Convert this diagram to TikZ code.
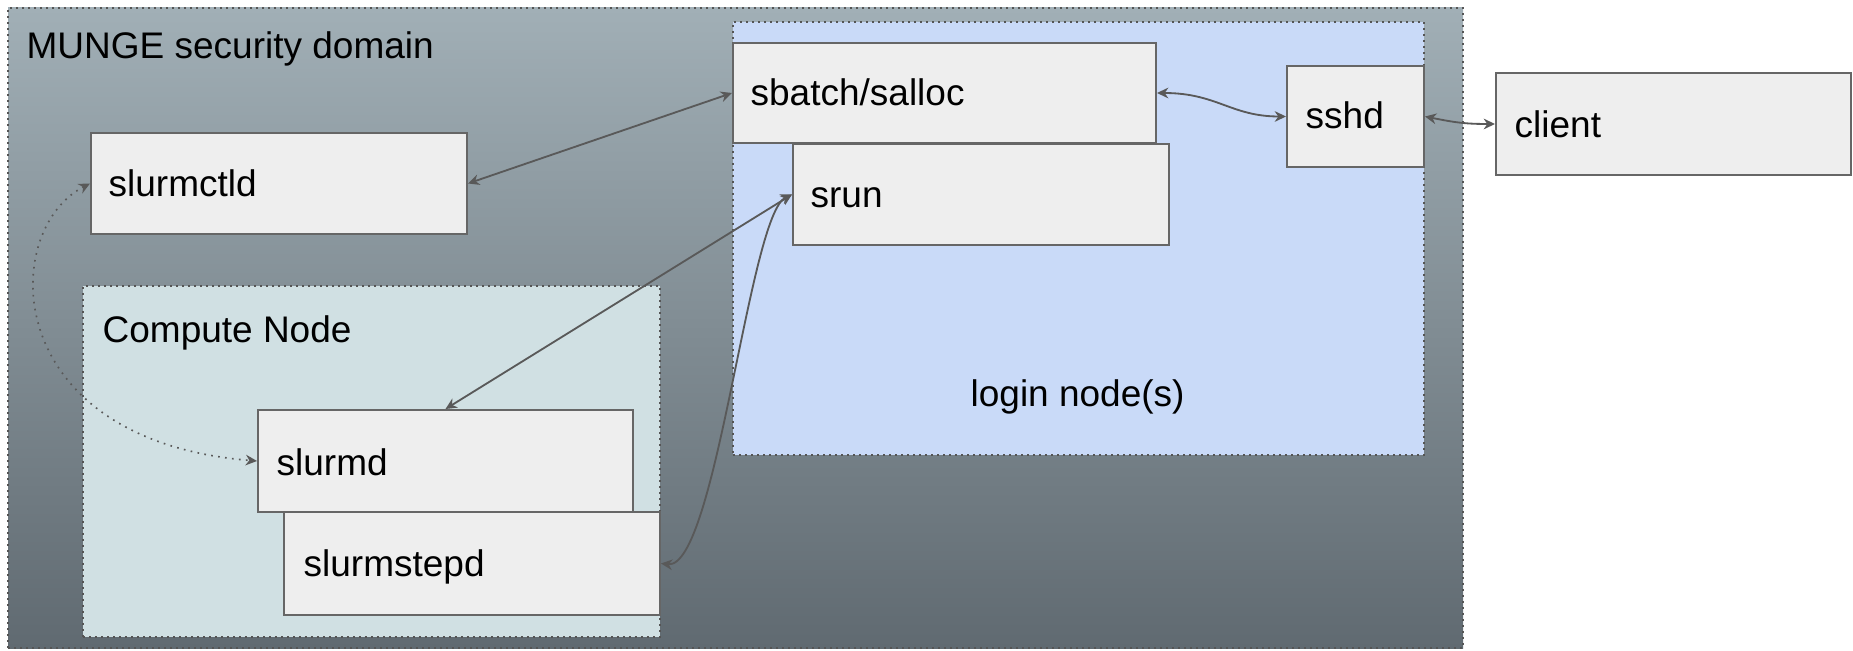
\documentclass[tikz,border=0pt]{standalone}
\usepackage{fontspec}
\setmainfont{Liberation Sans}
\usetikzlibrary{arrows.meta,fit,calc}
\definecolor{linegray}{HTML}{595959}
\definecolor{boxline}{HTML}{666666}
\definecolor{boxfill}{HTML}{EEEEEE}
\definecolor{dotgray}{HTML}{555555}
\definecolor{loginfill}{HTML}{C9DAF8}
\definecolor{computefill}{HTML}{D0E0E3}
\definecolor{outtop}{RGB}{161,175,182}
\definecolor{outbot}{RGB}{96,106,113}
\begin{document}
\begin{tikzpicture}[x=0.3pt,y=-0.3pt,
  box/.style={draw=boxline, line width=0.6pt, fill=boxfill, inner sep=0pt},
  zone/.style={draw=dotgray, line width=0.6pt, dash pattern=on 0.6pt off 1.2pt, inner sep=0pt},
  lbl/.style={anchor=base west, inner sep=0pt, font=\fontsize{11.1pt}{13pt}\selectfont, text=black},
  tip/.tip={Stealth[length=3.4pt,width=3.2pt,inset=1.1pt]},
  conn/.style={draw=linegray, line width=0.55pt, tip-tip},
  dotconn/.style={draw=linegray, line width=0.5pt, dash pattern=on 0.5pt off 1.6pt, tip-tip}]
\useasboundingbox (0,0) rectangle (1853,651);

% zones
\node[zone, fit={(8,8)(1463,648)}, top color=outtop, bottom color=outbot] (munge) {};
\node[lbl] (mungelbl) at (26,59) {MUNGE security domain};

\node[zone, fill=loginfill, fit={(733,22)(1424,455)}] (login) {};
\node[lbl] (loginlbl) at (970,407) {login node(s)};

\node[zone, fill=computefill, fit={(83,286)(660,637)}] (compute) {};
\node[lbl] (computelbl) at (102,343) {Compute Node};

% boxes
\node[box, fit={(91,133)(467,234)}] (ctld) {};
\node[lbl] at ($(ctld.west)+(18,13)$) {slurmctld};

\node[box, fit={(733,43)(1156,143)}] (sbatch) {};
\node[lbl] at ($(sbatch.west)+(18,13)$) {sbatch/salloc};

\node[box, fit={(793,144)(1169,245)}] (srun) {};
\node[lbl] at ($(srun.west)+(18,13)$) {srun};

\node[box, fit={(1287,66)(1424,167)}] (sshd) {};
\node[lbl] at ($(sshd.west)+(19,12)$) {sshd};

\node[box, fit={(1496,73)(1851,175)}] (client) {};
\node[lbl] at ($(client.west)+(19,14)$) {client};

\node[box, fit={(258,410)(633,512)}] (slurmd) {};
\node[lbl] at ($(slurmd.west)+(19,15)$) {slurmd};

\node[box, fit={(284,512)(660,615)}] (stepd) {};
\node[lbl] at ($(stepd.west)+(20,13)$) {slurmstepd};

% connectors
\draw[conn] (ctld.east) -- (sbatch.west);
\draw[conn] (sbatch.east) .. controls +(60,0) and +(-55,0) .. (sshd.west);
\draw[conn] (sshd.east) .. controls +(30,6) and +(-30,0) .. (client.west);
\draw[conn] (srun.west) -- (slurmd.north);
\draw[conn] (srun.west) .. controls +(-43,20) and +(55,6) .. (stepd.east);
\draw[dotconn] (ctld.west) .. controls +(-91,47) and +(-258,-21) .. (slurmd.west);
\end{tikzpicture}
\end{document}
